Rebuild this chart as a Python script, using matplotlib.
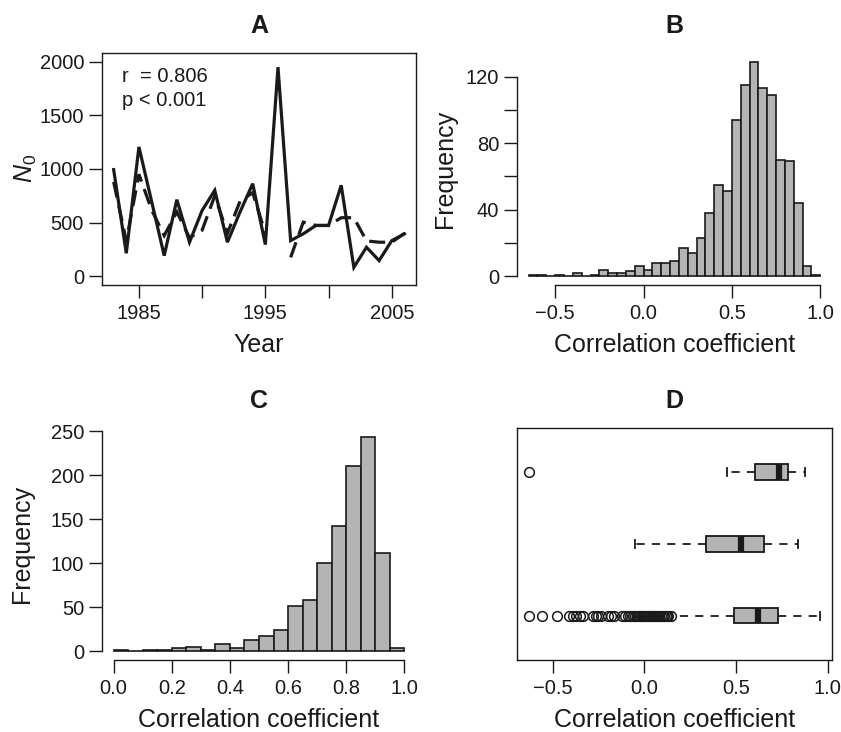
import numpy as np
import matplotlib
matplotlib.use('Agg')
import matplotlib.pyplot as plt

# ---- panel A: observed (solid) and predicted (dashed) N0 per year
years = [1983, 1984, 1985, 1986, 1987, 1988, 1989, 1990, 1991, 1992, 1993, 1994,
         1995, 1996, 1997, 1998, 1999, 2000, 2001, 2002, 2003, 2004, 2005, 2006]
n0_observed = [994, 215, 1205, 700, 193, 714, 318, 614, 801, 318, 600, 863,
               296, 1947, 333, 396, 474, 474, 848, 84, 271, 147, 333, 396]
n0_predicted = [879, 330, 950, 620, 380, 600, 360, 430, 750, 400, 700, 780,
                400, np.nan, 177, 505, 474, 474, 546, 546, 330, 318, 318, 400]
stat_lines = ['r  = 0.806', 'p < 0.001']

# ---- panel B: histogram, breaks of 0.05 from -0.65 to 1.0
b_breaks = np.round(np.arange(-0.65, 1.0001, 0.05), 2)
b_counts = [1, 1, 0, 1, 0, 2, 0, 1, 4, 2, 2, 3, 6, 4, 8, 8, 9, 17, 14, 23, 38,
            55, 51, 94, 115, 129, 113, 109, 70, 69, 44, 6, 1]

# ---- panel C: histogram, breaks of 0.05 from 0 to 1
c_breaks = np.round(np.arange(0.0, 1.0001, 0.05), 2)
c_counts = [1, 0, 1, 1, 4, 5, 1, 8, 4, 13, 18, 24, 52, 58, 100, 142, 210, 244, 112, 4]

# ---- panel D: three horizontal boxplots (bottom to top)
d_whislo = [0.15, -0.05, 0.452]
d_q1 = [0.492, 0.338, 0.602]
d_median = [0.620, 0.527, 0.735]
d_q3 = [0.727, 0.655, 0.782]
d_whishi = [0.961, 0.837, 0.875]
d_outliers = [
    [-0.63, -0.557, -0.475, -0.41, -0.39, -0.37, -0.35, -0.335, -0.28, -0.265,
     -0.25, -0.235, -0.195, -0.18, -0.165, -0.12, -0.105, -0.09, -0.075, -0.06,
     -0.05, -0.04, -0.03, -0.02, -0.01, 0.0, 0.01, 0.02, 0.03, 0.04, 0.05, 0.06,
     0.07, 0.08, 0.09, 0.10, 0.11, 0.12, 0.13, 0.145],
    [],
    [-0.63],
]

plt.rcParams['font.family'] = ['Liberation Sans', 'DejaVu Sans']
plt.rcParams['mathtext.fontset'] = 'custom'
plt.rcParams['mathtext.rm'] = 'Liberation Sans'
plt.rcParams['mathtext.it'] = 'Liberation Sans:italic'

TICK_FS = 14.5
LAB_FS = 18
TITLE_FS = 18
INK = '#1a1a1a'
BAR_GREY = '#b4b4b4'


def styleAxis(ax):
    ax.tick_params(direction='out', length=9.4, width=1.0, labelsize=TICK_FS,
                   colors=INK, labelcolor=INK)
    ax.tick_params(axis='x', pad=4.5)
    ax.tick_params(axis='y', pad=3.5)
    for sp in ax.spines.values():
        sp.set_linewidth(1.0)
        sp.set_color(INK)


def placeLabels(ax, title, xlabel, ylabel, xoff=-60 / 232, yoff=-80 / 314):
    ax.set_title(title, fontsize=TITLE_FS, fontweight='bold', color=INK, pad=14)
    ax.set_xlabel(xlabel, fontsize=LAB_FS, color=INK)
    ax.xaxis.label.set_va('center')
    ax.xaxis.set_label_coords(0.5, xoff)
    if ylabel:
        ax.set_ylabel(ylabel, fontsize=LAB_FS, color=INK)
        ax.yaxis.label.set_va('center')
        ax.yaxis.set_label_coords(yoff, 0.5)


def drawHist(ax, breaks, counts):
    ax.bar(breaks[:-1], counts, width=np.diff(breaks), align='edge',
           color=BAR_GREY, edgecolor=INK, linewidth=1.2)
    ax.spines['top'].set_visible(False)
    ax.spines['right'].set_visible(False)


fig = plt.figure(figsize=(8.41, 7.32), dpi=100)
axA = fig.add_axes([0.1213, 0.6107, 0.3734, 0.317])
axB = fig.add_axes([0.6147, 0.6107, 0.3746, 0.317])
axC = fig.add_axes([0.1213, 0.0984, 0.3734, 0.317])
axD = fig.add_axes([0.6147, 0.0984, 0.3746, 0.317])

# A
axA.plot(years, n0_observed, color=INK, lw=2.3, solid_joinstyle='miter')
axA.plot(years, n0_predicted, color=INK, lw=2.3, dashes=(5, 2.5), dash_joinstyle='miter')
axA.set_xlim(1982.08, 2006.92)
axA.set_ylim(-80, 2080)
axA.set_xticks([1985, 1990, 1995, 2000, 2005])
axA.set_xticklabels(['1985', '', '1995', '', '2005'])
axA.set_yticks([0, 500, 1000, 1500, 2000])
for i, s in enumerate(stat_lines):
    axA.text(0.063, 0.897 - 0.10 * i, s, transform=axA.transAxes, ha='left',
             va='center', fontsize=TICK_FS, color=INK)
styleAxis(axA)
placeLabels(axA, 'A', 'Year', r'$N_0$', yoff=-76 / 314)

# B
drawHist(axB, b_breaks, b_counts)
axB.set_xlim(-0.716, 1.066)
axB.set_ylim(-5.16, 134.16)
axB.spines['bottom'].set_bounds(-0.5, 1.0)
axB.spines['left'].set_bounds(0, 120)
axB.set_xticks([-0.5, 0.0, 0.5, 1.0])
axB.set_xticklabels(['\u22120.5', '0.0', '0.5', '1.0'])
axB.set_yticks([0, 20, 40, 60, 80, 100, 120])
axB.set_yticklabels(['0', '', '40', '', '80', '', '120'])
styleAxis(axB)
placeLabels(axB, 'B', 'Correlation coefficient', 'Frequency', yoff=-72 / 315)

# C
drawHist(axC, c_breaks, c_counts)
axC.set_xlim(-0.04, 1.04)
axC.set_ylim(-9.76, 253.76)
axC.spines['bottom'].set_bounds(0.0, 1.0)
axC.spines['left'].set_bounds(0, 250)
axC.set_xticks([0.0, 0.2, 0.4, 0.6, 0.8, 1.0])
axC.set_xticklabels(['0.0', '0.2', '0.4', '0.6', '0.8', '1.0'])
axC.set_yticks([0, 50, 100, 150, 200, 250])
styleAxis(axC)
placeLabels(axC, 'C', 'Correlation coefficient', 'Frequency')

# D
stats = []
for k in range(3):
    stats.append(dict(whislo=d_whislo[k], q1=d_q1[k], med=d_median[k],
                      q3=d_q3[k], whishi=d_whishi[k], fliers=d_outliers[k]))
bx_kw = dict(positions=[1, 2, 3], widths=0.22, capwidths=0.11, patch_artist=True,
             showfliers=True,
             boxprops=dict(facecolor=BAR_GREY, edgecolor=INK, linewidth=1.3),
             medianprops=dict(color=INK, linewidth=4.5, solid_capstyle='butt'),
             whiskerprops=dict(color=INK, linewidth=1.3, linestyle=(0, (4.5, 4))),
             capprops=dict(color=INK, linewidth=1.3),
             flierprops=dict(marker='o', markerfacecolor='none', markeredgecolor=INK,
                             markersize=7, markeredgewidth=1.1, linestyle='none'))
try:
    axD.bxp(stats, orientation='horizontal', **bx_kw)
except TypeError:
    axD.bxp(stats, vert=False, **bx_kw)
axD.set_xlim(-0.694, 1.024)
axD.set_ylim(0.38, 3.62)
axD.set_yticks([])
axD.set_xticks([-0.5, 0.0, 0.5, 1.0])
axD.set_xticklabels(['\u22120.5', '0.0', '0.5', '1.0'])
styleAxis(axD)
placeLabels(axD, 'D', 'Correlation coefficient', None)

fig.savefig('out.png', dpi=100)
